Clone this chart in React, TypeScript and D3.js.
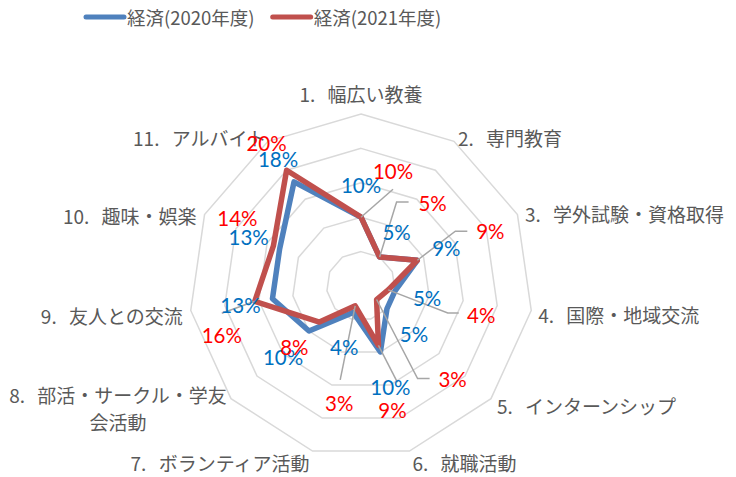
import * as d3 from 'd3';
import React from 'react';

// category axes (clockwise from the top)
const categories = [
  '1. 幅広い教養',
  '2. 専門教育',
  '3. 学外試験・資格取得',
  '4. 国際・地域交流',
  '5. インターンシップ',
  '6. 就職活動',
  '7. ボランティア活動',
  '8. 部活・サークル・学友\n会活動',
  '9. 友人との交流',
  '10. 趣味・娯楽',
  '11. アルバイト',
];

const seriesNames = ['経済(2020年度)', '経済(2021年度)'];
const values2020 = [0.10, 0.05, 0.09, 0.05, 0.05, 0.10, 0.04, 0.10, 0.13, 0.13, 0.18];
const values2021 = [0.10, 0.05, 0.09, 0.04, 0.03, 0.09, 0.03, 0.08, 0.156, 0.14, 0.20];
const ringTicks = [0.05, 0.10, 0.15, 0.20, 0.25];

// layout of the data labels (offset from their point, px)
const labelOffset2020 = [[0, -32], [17, -25], [29, -12], [32, 7], [27, 25], [10, 35], [-9, 35], [-26, 26], [-32, 6], [-31, -12], [-16, -23]];
const labelOffset2021 = [[32, -46], [53, -54], [73, -29], [93, 25], [76, 79], [14, 65], [-16, 97], [-25, 25], [-33, 34], [-36, -28], [-20, -27]];
// leader line points, relative to the label centre
const leader2021: (number[][] | null)[] = [
  [[0, 18]], [[-36, -1], [-24, -1]], [[-35, 0], [-23, 0]], [[-33.5, -2], [-22.5, -2]], [[-35, 0], [-23, 0]],
  [[5, -28]], [[1, -23]], null, [[0, -22]], null, null,
];
// category label placement relative to the outer vertex
const catLayout: [string, number, number][] = [
  ['middle', 0, -21], ['start', 4, -4.5], ['start', 7.5, -2], ['start', 7, 3.5], ['start', 6, 6.5],
  ['start', 3, 11], ['end', -3, 11], ['middle', -113, -5], ['end', -8, 4.5], ['end', -8, 0], ['end', -1.5, -4],
];

const W = 736, H = 477;
const cx = 361, cy = 286, R = 172;
const BLUE = '#4f81bd', RED = '#c0504d';
const CJK = '"Noto Sans CJK JP", "Noto Sans", sans-serif';

export default function App() {
  const n = categories.length;
  const angle = (i: number) => (i * 2 * Math.PI) / n;
  const r = d3.scaleLinear().domain([0, 0.25]).range([0, R]);
  const fmt = d3.format('.0%');

  const ringPath = d3.lineRadial<number>()
    .angle((_, i) => angle(i))
    .radius(d => d)
    .curve(d3.curveLinearClosed);
  const seriesPath = d3.lineRadial<number>()
    .angle((_, i) => angle(i))
    .radius(d => r(d))
    .curve(d3.curveLinearClosed);

  const pt = (i: number, v: number) => {
    const [x, y] = d3.pointRadial(angle(i), r(v));
    return [cx + x, cy + y];
  };

  const series = [
    { name: seriesNames[0], values: values2020, color: BLUE, labelColor: '#0070c0', offsets: labelOffset2020, leaders: null as any },
    { name: seriesNames[1], values: values2021, color: RED, labelColor: '#ff0000', offsets: labelOffset2021, leaders: leader2021 },
  ];

  return (
    <svg width={W} height={H} style={{ position: 'absolute', left: 0, top: 0, background: '#fff' }}>
      {/* legend */}
      {series.map((s, k) => {
        const x0 = 86 + k * 186.7;
        return (
          <g key={s.name}>
            <line x1={x0} x2={x0 + 38} y1={17} y2={17} stroke={s.color} strokeWidth={5} strokeLinecap="round" />
            <text x={x0 + 41} y={17} dominantBaseline="central" fontFamily={CJK} fontSize={18.5} fill="#595959">{s.name}</text>
          </g>
        );
      })}

      {/* grid rings */}
      <g transform={`translate(${cx},${cy})`}>
        {ringTicks.map(t => (
          <path key={t} d={ringPath(categories.map(() => r(t))) || ''} fill="none" stroke="#d9d9d9" strokeWidth={1.5} />
        ))}
      </g>

      {/* category labels */}
      {categories.map((c, i) => {
        const [ox, oy] = pt(i, 0.25);
        const [anchor, dx, dy] = catLayout[i];
        const lines = c.split('\n');
        return (
          <text key={c} x={ox + dx} y={oy + dy} textAnchor={anchor} dominantBaseline="central"
            fontFamily={CJK} fontSize={19} fill="#595959" style={{ wordSpacing: '8px' }}>
            {lines.map((l, j) => (
              <tspan key={j} x={ox + dx} dy={j === 0 ? 0 : 27}>{l}</tspan>
            ))}
          </text>
        );
      })}

      {/* series */}
      <g transform={`translate(${cx},${cy})`}>
        {series.map(s => (
          <path key={s.name} d={seriesPath(s.values) || ''} fill="none" stroke={s.color}
            strokeWidth={5.5} strokeLinejoin="round" />
        ))}
      </g>

      {/* leader lines */}
      {series.map(s => s.leaders && s.values.map((v, i) => {
        const lead = s.leaders[i];
        if (!lead) return null;
        const [px, py] = pt(i, v);
        const lx = px + s.offsets[i][0], ly = py + s.offsets[i][1];
        const pts = [[px, py], ...lead.map((p: number[]) => [lx + p[0], ly + p[1]])];
        return (
          <polyline key={s.name + i} points={pts.map(p => p.join(',')).join(' ')}
            fill="none" stroke="#a6a6a6" strokeWidth={1.5} />
        );
      }))}

      {/* data labels */}
      {series.map(s => s.values.map((v, i) => {
        const [px, py] = pt(i, v);
        return (
          <text key={s.name + 'l' + i} x={px + s.offsets[i][0]} y={py + s.offsets[i][1]}
            textAnchor="middle" dominantBaseline="central" fontFamily="Lato, 'Liberation Sans', sans-serif"
            fontSize={20.5} fill={s.labelColor}>{fmt(v)}</text>
        );
      }))}
    </svg>
  );
}
